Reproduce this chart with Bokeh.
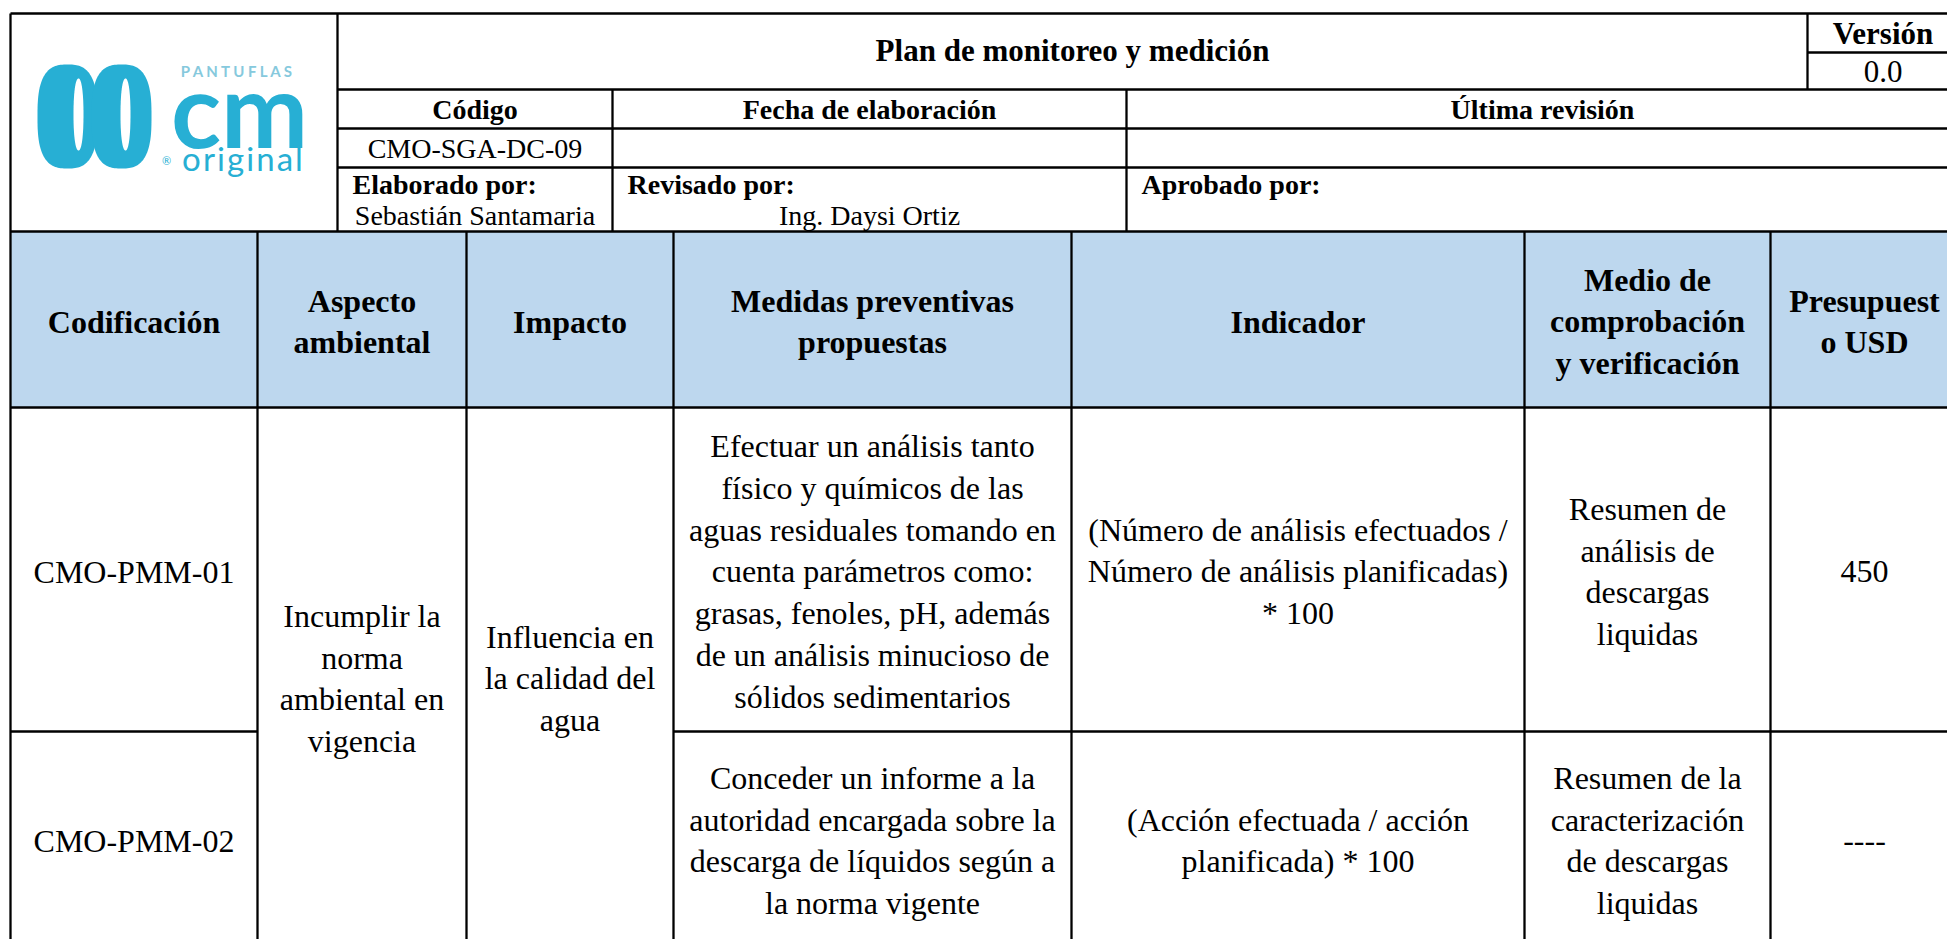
import numpy as np
from bokeh.plotting import figure
from bokeh.models import Range1d
from bokeh.core.properties import value
from bokeh.embed import file_html
from bokeh.resources import INLINE

# ---------------- data (texts) ----------------
TITLE = "Plan de monitoreo y medición"
VERSION_LABEL = "Versión"
VERSION_VALUE = "0.0"
META_LABELS = ["Código", "Fecha de elaboración", "Última revisión"]
META_VALUES = ["CMO-SGA-DC-09", "", ""]
SIGN_LABELS = ["Elaborado por:", "Revisado por:", "Aprobado por:"]
SIGN_NAMES = ["Sebastián Santamaria", "Ing. Daysi Ortiz", ""]
COLUMNS = ["Codificación", "Aspecto\nambiental", "Impacto",
           "Medidas preventivas\npropuestas", "Indicador",
           "Medio de\ncomprobación\ny verificación", "Presupuest\no USD"]
CODES = ["CMO-PMM-01", "CMO-PMM-02"]
ASPECT = "Incumplir la\nnorma\nambiental en\nvigencia"
IMPACT = "Influencia en\nla calidad del\nagua"
MEASURES = ["Efectuar un análisis tanto\nfísico y químicos de las\naguas residuales tomando en\ncuenta parámetros como:\ngrasas, fenoles, pH, además\nde un análisis minucioso de\nsólidos sedimentarios",
            "Conceder un informe a la\nautoridad encargada sobre la\ndescarga de líquidos según a\nla norma vigente"]
INDICATORS = ["(Número de análisis efectuados /\nNúmero de análisis planificadas)\n* 100",
              "(Acción efectuada / acción\nplanificada) * 100"]
VERIFICATION = ["Resumen de\nanálisis de\ndescargas\nliquidas",
                "Resumen de la\ncaracterización\nde descargas\nliquidas"]
BUDGET = ["450", "----"]
LOGO_WORDS = ["PANTUFLAS", "cm", "original", "®"]

# ---------------- layout (page pixel coordinates) ----------------
W, H = 1947, 939
XL = 10
X_LOGO = 337
X_HDR = [337, 612, 1126, 1958]
X_VER = 1807
XR = 1958
Y_TOP, Y_VDIV, Y_TITLE, Y_META, Y_VAL, Y_HDR = 13, 52, 89, 128, 167, 231
COL_X = [10, 257, 466, 673, 1071, 1524, 1770, 1958]
Y_THEAD, Y_ROW1, Y_BOT = 407, 731, 949

SERIF = value("Liberation Serif")
SANS = value("Lato")
BLUE = "#BDD7EE"
CYAN = "#27AFD4"

p = figure(width=W, height=H, output_backend="svg", toolbar_location=None,
           x_range=Range1d(0, W), y_range=Range1d(H, 0),
           min_border=0, outline_line_color=None, background_fill_color="white")
p.axis.visible = False
p.grid.visible = False

# blue header band
p.quad(left=[COL_X[0]], right=[COL_X[-1]], top=[Y_HDR], bottom=[Y_THEAD],
       fill_color=BLUE, line_color=None)

# ---------------- logo ----------------
def superellipse(cx, cy, a, b, n=4.0, k=160):
    t = np.linspace(0, 2 * np.pi, k)
    ct, st = np.cos(t), np.sin(t)
    return (cx + a * np.sign(ct) * np.abs(ct) ** (2 / n),
            cy + b * np.sign(st) * np.abs(st) ** (2 / n))

lobes = [superellipse(67, 116, 30, 52, n=2.8), superellipse(121, 116, 30, 52, n=2.8)]
p.patches([l[0].tolist() for l in lobes], [l[1].tolist() for l in lobes],
          fill_color=CYAN, line_color=None)
holes = [superellipse(78, 114, 5, 36, n=2.2), superellipse(125, 114, 5, 36, n=2.2)]
p.patches([h[0].tolist() for h in holes], [h[1].tolist() for h in holes],
          fill_color="white", line_color=None)

p.text(x=[238], y=[70], text=[" ".join(LOGO_WORDS[0])], text_align="center",
       text_baseline="middle", text_font=SANS, text_font_size="15px",
       text_color="#86C9DD", text_font_style="bold")
p.text(x=[239], y=[107], text=[LOGO_WORDS[1]], text_align="center",
       text_baseline="alphabetic", text_font=SANS, text_font_size="104px",
       text_color=CYAN, text_font_style="bold")
p.text(x=[242], y=[157], text=["\u200a".join(LOGO_WORDS[2])], text_align="center",
       text_baseline="alphabetic", text_font=SANS, text_font_size="33px",
       text_color=CYAN)
p.text(x=[166], y=[160], text=[LOGO_WORDS[3]], text_align="center",
       text_baseline="alphabetic", text_font=SANS, text_font_size="11px",
       text_color=CYAN)

# ---------------- grid lines ----------------
hx0, hy0, hx1, hy1 = [], [], [], []
def hline(y, x0, x1):
    hx0.append(x0); hx1.append(x1); hy0.append(y); hy1.append(y)
def vline(x, y0, y1):
    hx0.append(x); hx1.append(x); hy0.append(y0); hy1.append(y1)

hline(Y_TOP, XL, XR)
vline(XL, Y_TOP, Y_BOT)
vline(X_LOGO, Y_TOP, Y_HDR)
vline(X_VER, Y_TOP, Y_TITLE)
hline(Y_VDIV, X_VER, XR)
for y in (Y_TITLE, Y_META, Y_VAL):
    hline(y, X_LOGO, XR)
for x in X_HDR[1:-1]:
    vline(x, Y_TITLE, Y_HDR)
hline(Y_HDR, XL, XR)
for x in COL_X[1:]:
    vline(x, Y_HDR, Y_BOT)
hline(Y_THEAD, XL, XR)
hline(Y_ROW1, COL_X[0], COL_X[1])
hline(Y_ROW1, COL_X[3], COL_X[-1])
hline(Y_BOT, XL, XR)
p.segment(x0=hx0, y0=hy0, x1=hx1, y1=hy1, line_color="black", line_width=2.3)

# ---------------- text helpers ----------------
def put(xs, ys, texts, size, bold=False, align="center", lh=1.16):
    p.text(x=xs, y=ys, text=texts, text_align=align, text_baseline="middle",
           text_font=SERIF, text_font_size=size, text_color="black",
           text_font_style="bold" if bold else "normal", text_line_height=lh)

mid = lambda a, b: (a + b) / 2

# header
put([mid(X_LOGO, X_VER)], [mid(Y_TOP, Y_TITLE) - 1], [TITLE], "31px", bold=True)
put([mid(X_VER, XR)], [mid(Y_TOP, Y_VDIV)], [VERSION_LABEL], "31px", bold=True)
put([mid(X_VER, XR)], [mid(Y_VDIV, Y_TITLE)], [VERSION_VALUE], "31px")
hc = [mid(X_HDR[i], X_HDR[i + 1]) for i in range(3)]
put(hc, [mid(Y_TITLE, Y_META)] * 3, META_LABELS, "28px", bold=True)
put(hc, [mid(Y_META, Y_VAL)] * 3, META_VALUES, "28px")
put([X_HDR[i] + 15 for i in range(3)], [Y_VAL + 17] * 3, SIGN_LABELS, "28px",
    bold=True, align="left")
put(hc, [Y_VAL + 48] * 3, SIGN_NAMES, "28px")

# column headers
cc = [mid(COL_X[i], COL_X[i + 1]) for i in range(len(COLUMNS))]
put(cc, [mid(Y_HDR, Y_THEAD) + 2] * len(COLUMNS), COLUMNS, "32px", bold=True)

# body
r1, r2 = mid(Y_THEAD, Y_ROW1) + 2, mid(Y_ROW1, Y_BOT)
put([cc[0], cc[0]], [r1, r2], CODES, "32px")
put([cc[1]], [mid(Y_THEAD, Y_BOT)], [ASPECT], "32px")
put([cc[2]], [mid(Y_THEAD, Y_BOT)], [IMPACT], "32px")
put([cc[3], cc[3]], [r1, r2], MEASURES, "32px")
put([cc[4], cc[4]], [r1, r2], INDICATORS, "32px")
put([cc[5], cc[5]], [r1, r2], VERIFICATION, "32px")
put([cc[6], cc[6]], [r1, r2], BUDGET, "32px")

open("out.html", "w").write(file_html(p, INLINE))
